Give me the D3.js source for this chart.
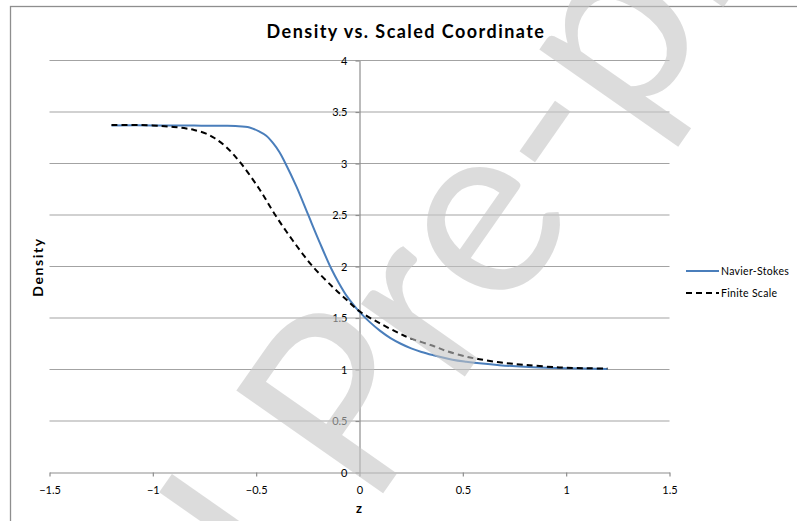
<!DOCTYPE html>
<html>
<head>
<meta charset="utf-8">
<script src="https://cdn.jsdelivr.net/npm/d3@7"></script>
<style>
  html, body { margin: 0; padding: 0; background: #fff; }
  svg { display: block; }
  text { font-family: Lato, "Open Sans", sans-serif; }
</style>
</head>
<body>
<svg id="chart" width="797" height="521"></svg>
<script>
// ---- data ----
const xTicks = [-1.5, -1, -0.5, 0, 0.5, 1, 1.5];
const yTicks = [0, 0.5, 1, 1.5, 2, 2.5, 3, 3.5, 4];
const seriesNames = ["Navier-Stokes", "Finite Scale"];

const nsZ   = [-1.2, -1.0, -0.8, -0.65, -0.6, -0.532, -0.484, -0.451, -0.419, -0.387, -0.363, -0.306, -0.25, -0.194, -0.137, -0.1, -0.064, -0.03, 0, 0.05, 0.1, 0.15, 0.2, 0.25, 0.3, 0.355, 0.45, 0.516, 0.581, 0.677, 0.84, 1.0, 1.2];
const nsRho = [3.37, 3.37, 3.368, 3.366, 3.363, 3.35, 3.31, 3.27, 3.20, 3.11, 3.02, 2.78, 2.51, 2.24, 1.98, 1.84, 1.72, 1.63, 1.56, 1.46, 1.375, 1.305, 1.25, 1.205, 1.17, 1.14, 1.095, 1.075, 1.06, 1.042, 1.022, 1.012, 1.006];

const fsZ   = [-1.2, -1.0, -0.9, -0.838, -0.8, -0.742, -0.7, -0.645, -0.581, -0.484, -0.411, -0.322, -0.226, -0.129, -0.064, 0, 0.097, 0.194, 0.25, 0.355, 0.42, 0.516, 0.58, 0.677, 0.8, 0.968, 1.1, 1.2];
const fsRho = [3.375, 3.37, 3.355, 3.34, 3.325, 3.29, 3.245, 3.16, 3.02, 2.75, 2.51, 2.25, 2.0, 1.80, 1.68, 1.565, 1.45, 1.35, 1.30, 1.23, 1.18, 1.125, 1.10, 1.07, 1.045, 1.02, 1.012, 1.01];

const svg = d3.select("#chart");

// chart frame
svg.append("rect").attr("x", 10.5).attr("y", 6.5).attr("width", 800).attr("height", 600)
  .attr("fill", "#fff").attr("stroke", "#8e8e8e").attr("stroke-width", 1.3);

const x = d3.scaleLinear().domain([-1.5, 1.5]).range([49.5, 669.5]);
const y = d3.scaleLinear().domain([0, 4]).range([472.5, 60.5]);

// gridlines
svg.append("g").selectAll("line").data(yTicks.filter(d => d > 0)).join("line")
  .attr("x1", x(-1.5)).attr("x2", x(1.5))
  .attr("y1", d => y(d)).attr("y2", d => y(d))
  .attr("stroke", "#a3a3a3").attr("stroke-width", 1.2);

// x axis
const xAxis = svg.append("g").attr("transform", `translate(0,${y(0)})`)
  .call(d3.axisBottom(x).tickValues(xTicks).tickFormat(d3.format("")).tickSizeInner(4).tickSizeOuter(0).tickPadding(10));
xAxis.select(".domain").attr("stroke", "#8e8e8e").attr("stroke-width", 1.2);
xAxis.selectAll(".tick line").attr("stroke", "#8e8e8e").attr("stroke-width", 1.2);
xAxis.selectAll(".tick text").attr("font-size", 11).attr("fill", "#000").attr("font-family", "Lato");

// y axis
const yAxis = svg.append("g").attr("transform", `translate(${x(0)},0)`)
  .call(d3.axisLeft(y).tickValues(yTicks).tickFormat(d3.format("")).tickSizeInner(4).tickSizeOuter(0).tickPadding(8));
yAxis.select(".domain").attr("stroke", "#8e8e8e").attr("stroke-width", 1.2);
yAxis.selectAll(".tick line").attr("stroke", "#8e8e8e").attr("stroke-width", 1.2);
yAxis.selectAll(".tick text").attr("font-size", 11).attr("fill", "#000").attr("font-family", "Lato");

// lines
const line = d3.line().x(d => x(d[0])).y(d => y(d[1])).curve(d3.curveCatmullRom.alpha(0.5));
const nsData = nsZ.map((z, i) => [z, nsRho[i]]);
const fsData = fsZ.map((z, i) => [z, fsRho[i]]);

svg.append("path").datum(nsData).attr("d", line)
  .attr("fill", "none").attr("stroke", "#4a7ebb").attr("stroke-width", 2);
svg.append("path").datum(fsData).attr("d", line)
  .attr("fill", "none").attr("stroke", "#000").attr("stroke-width", 2).attr("stroke-dasharray", "6,4");

// title and axis titles
svg.append("text").attr("x", 406).attr("y", 38).attr("text-anchor", "middle")
  .attr("font-size", 18).attr("font-weight", "bold").attr("letter-spacing", 1.45)
  .text("Density vs. Scaled Coordinate");
svg.append("text").attr("x", 359).attr("y", 513).attr("text-anchor", "middle")
  .attr("font-size", 13).attr("font-weight", "bold").text("z");
svg.append("text").attr("transform", "translate(43,267) rotate(-90)").attr("text-anchor", "middle")
  .attr("font-size", 14).attr("font-weight", "bold").attr("letter-spacing", 1.6).text("Density");

// legend
const legY = [271, 293];
const leg = svg.append("g");
seriesNames.forEach((name, i) => {
  leg.append("line").attr("x1", 686).attr("x2", 719).attr("y1", legY[i]).attr("y2", legY[i])
    .attr("stroke", i === 0 ? "#4a7ebb" : "#000").attr("stroke-width", 2)
    .attr("stroke-dasharray", i === 0 ? null : "6,4");
  leg.append("text").attr("x", 721).attr("y", legY[i] + 3.5).attr("font-size", 10.5)
    .attr("letter-spacing", 0.3).text(name);
});

// watermark
const wm = svg.append("text")
  .attr("font-family", "Liberation Serif, serif").attr("font-size", 250)
  .attr("fill", "#c4c4c4").attr("fill-opacity", 0.6)
  .text("Journal Pre-proof");
const off = wm.node().getSubStringLength(0, 8);
wm.attr("x", -off).attr("transform", "translate(370,512) rotate(-55)");
</script>
</body>
</html>
